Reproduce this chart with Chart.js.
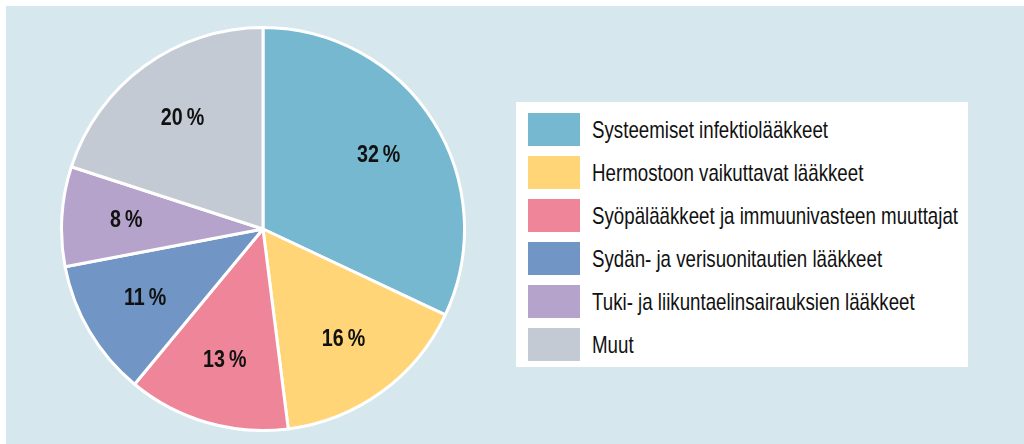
<!DOCTYPE html>
<html>
<head>
<meta charset="utf-8">
<script src="https://cdn.jsdelivr.net/npm/chart.js@4/dist/chart.umd.min.js"></script>
<style>
  html, body { margin: 0; padding: 0; background: #ffffff; }
  #bg { position: absolute; left: 6px; top: 6px; width: 1018px; height: 438px; background: #d7e7ee; }
  #wrap { position: absolute; left: 60px; top: 26px; width: 406px; height: 406px; }
  #legend { position: absolute; left: 516px; top: 102px; width: 452px; height: 265px; background: #ffffff; box-sizing: border-box; padding-top: 6px; overflow: hidden; }
  .row { display: flex; align-items: center; height: 43px; padding-left: 12px; }
  .sw { width: 52px; height: 33px; margin-right: 12px; flex: none; }
  .lbl { font-family: "Liberation Sans", Arial, sans-serif; font-size: 24px; color: #111; white-space: nowrap; display: inline-block; transform-origin: left center; }
</style>
</head>
<body>
<div id="bg"></div>
<div id="wrap"><canvas id="c"></canvas></div>
<div id="legend"></div>
<script>
const categories = [
  "Systeemiset infektiolääkkeet",
  "Hermostoon vaikuttavat lääkkeet",
  "Syöpälääkkeet ja immuunivasteen muuttajat",
  "Sydän- ja verisuonitautien lääkkeet",
  "Tuki- ja liikuntaelinsairauksien lääkkeet",
  "Muut"
];
const shares = [32, 16, 13, 11, 8, 20];
const colors = ["#76b8cf", "#ffd577", "#ef8598", "#7195c4", "#b6a3cc", "#c3cad4"];

const FONT = '"Liberation Sans", Arial, sans-serif';
const LABEL_SQUEEZE = 0.82;

const labelPlugin = {
  id: 'sliceLabels',
  afterDatasetsDraw(chart) {
    const ctx = chart.ctx;
    const meta = chart.getDatasetMeta(0);
    meta.data.forEach((arc, i) => {
      const p = arc.getProps(['x', 'y', 'startAngle', 'endAngle', 'outerRadius'], true);
      const mid = (p.startAngle + p.endAngle) / 2;
      const r = p.outerRadius * 0.68;
      ctx.save();
      ctx.translate(p.x + Math.cos(mid) * r, p.y + Math.sin(mid) * r);
      ctx.scale(LABEL_SQUEEZE, 1);
      ctx.font = 'bold 24px ' + FONT;
      ctx.fillStyle = '#111';
      ctx.textAlign = 'center';
      ctx.textBaseline = 'middle';
      ctx.fillText(shares[i] + '\u2009%', 0, 0);
      ctx.restore();
    });
  }
};

new Chart(document.getElementById('c'), {
  type: 'pie',
  data: {
    labels: categories,
    datasets: [{
      data: shares,
      backgroundColor: colors,
      borderColor: '#ffffff',
      borderWidth: 3
    }]
  },
  options: {
    responsive: true,
    maintainAspectRatio: false,
    animation: false,
    layout: { padding: 0 },
    plugins: {
      legend: { display: false },
      tooltip: { enabled: false }
    }
  },
  plugins: [labelPlugin]
});

const leg = document.getElementById('legend');
const spans = [];
categories.forEach((name, i) => {
  const row = document.createElement('div');
  row.className = 'row';
  const sw = document.createElement('div');
  sw.className = 'sw';
  sw.style.background = colors[i];
  const t = document.createElement('span');
  t.className = 'lbl';
  t.textContent = name;
  row.appendChild(sw);
  row.appendChild(t);
  leg.appendChild(row);
  spans.push(t);
});
// condense text so the longest entry spans ~366px like the reference
const widest = Math.max(...spans.map(s => s.getBoundingClientRect().width));
const sx = 366 / widest;
spans.forEach(s => { s.style.transform = 'scaleX(' + sx + ')'; });
</script>
</body>
</html>
